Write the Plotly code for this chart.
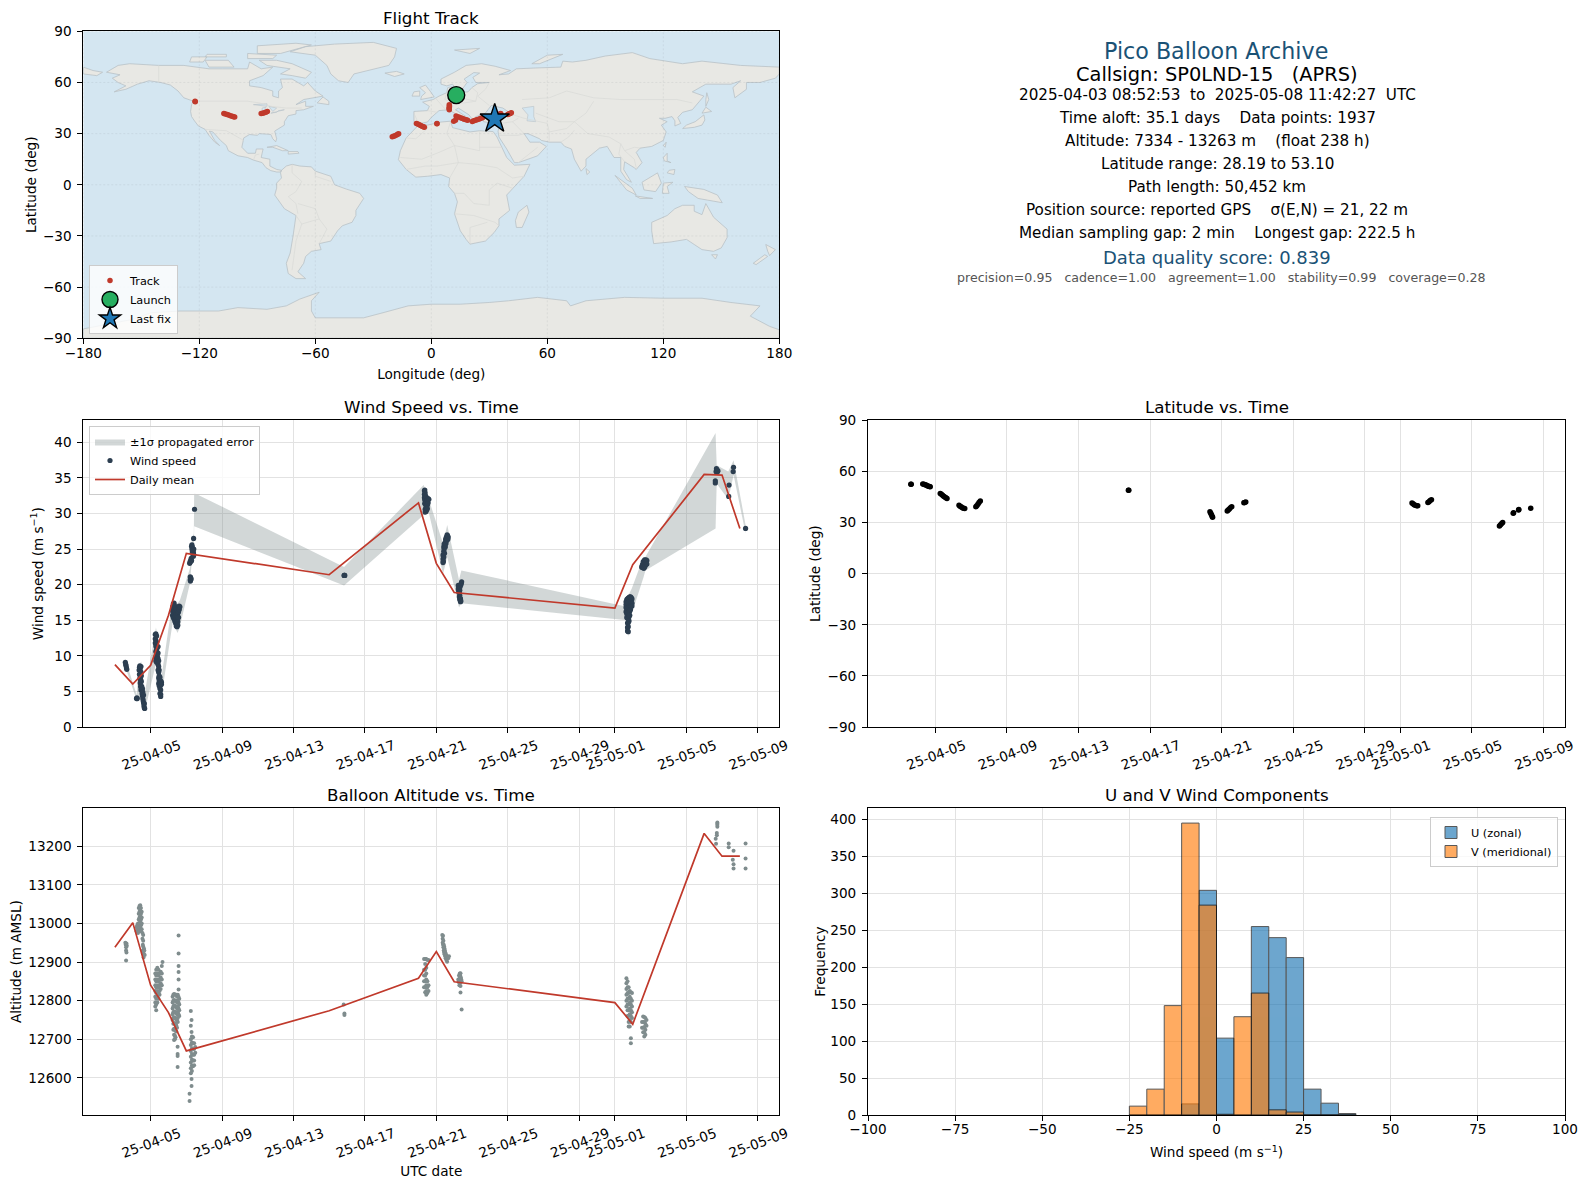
import plotly.graph_objects as go

W, H = 1586, 1189
FONT = "DejaVu Sans"

# ---------- map outlines (lon, lat) ----------
north_america = [(-168,66),(-162,70),(-156,71),(-141,70),(-128,70),(-115,68),(-108,68),(-95,68),(-94,72),(-88,68),(-82,69),(-87,64),(-94,61),(-94,58),(-88,57),(-82,55),(-82,52),(-79,51),(-79,55),(-77,57),(-78,62),(-72,62),(-66,58),(-64,60),(-60,55),(-56,52),(-66,50),(-70,47),(-65,49),(-65,46),(-61,46),(-66,44),(-70,43.5),(-70,41.5),(-74,40.5),(-76,37),(-76,35),(-81,31.5),(-80,27),(-80.5,25.2),(-82,27),(-83,29.5),(-85,29.7),(-89,30),(-90,29),(-94,29.5),(-97,27.5),(-98,22),(-95,18.5),(-91,18.5),(-90.5,21),(-87,21),(-88,16),(-83.5,15),(-83.5,11),(-80,9),(-77.5,8.5),(-78,7.5),(-80,7.5),(-83,8.3),(-85.5,10),(-87.5,13),(-92,14.5),(-95,16),(-100,17),(-105,20),(-106,23),(-109,26),(-113,31),(-114.8,31.5),(-112,26),(-109.5,23),(-112,25),(-115,29),(-117,32.5),(-120.5,34.5),(-122.5,37.5),(-124,40),(-124.5,43),(-124,47),(-123,49),(-128,51),(-131,55),(-135,58.5),(-140,60),(-146,61),(-152,59),(-158,56),(-164,54.5),(-158,58),(-162,60),(-165,62.5),(-161,64.5)]
greenland = [(-73,78),(-60,76),(-54,70),(-52,65),(-48,61),(-43,60),(-40,65),(-30,68),(-22,70),(-19,75),(-18,80),(-30,83.5),(-50,82.5),(-65,81)]
baffin = [(-80,73),(-72,71),(-62,66),(-65,62.5),(-72,64),(-78,65),(-73,68),(-85,70),(-89,73)]
victoria = [(-117,73),(-105,73),(-102,69),(-115,69)]
ellesmere = [(-90,77),(-78,77),(-62,82),(-70,83),(-90,81.5)]
banks = [(-125,72),(-118,72),(-116,75),(-124,75)]
devon = [(-95,74),(-82,74),(-80,76),(-95,77)]
melville = [(-117,75),(-106,75),(-106,76.5),(-116,76.5)]
newfoundland = [(-59,48),(-53,47),(-53,49),(-56,51.5)]
cuba = [(-85,22),(-80,23),(-74,20),(-77,20),(-82,22)]
hispaniola = [(-74,19.5),(-69,19.5),(-68.5,18.5),(-74,18)]
south_america = [(-77.5,8.5),(-75,11),(-72,12),(-68,11),(-62,10.5),(-60,8),(-52,5),(-50,0),(-44,-2.5),(-37,-5),(-35,-8),(-39,-15),(-39,-18),(-41,-22),(-46,-24),(-48.5,-27),(-52,-33),(-58,-34.5),(-57,-38),(-62,-39),(-65,-42),(-66,-46),(-69,-51),(-65,-55),(-70,-55),(-74,-52),(-75,-46),(-73,-40),(-71.5,-30),(-70,-18),(-76,-14),(-81,-6),(-80,-2),(-80,1),(-77.5,4),(-78,7)]
africa = [(-6,35.8),(-2,35),(5,36.8),(10,37.3),(11,33.5),(15,32.3),(20,31),(25,31.7),(32,31.2),(34,28),(37,21),(39,16),(43,11.5),(51,12),(48,5),(42,-2),(39,-6),(40.5,-15),(35,-20),(35,-24),(32.5,-28),(28,-33),(20,-34.8),(18,-32),(15,-27),(12,-17),(13.5,-10),(12,-5),(9,-1),(9.5,4),(5,6),(-2,5),(-8,4.5),(-13,9),(-17,14.7),(-16,20),(-13,27.5),(-10,31)]
madagascar = [(49.5,-12),(50.5,-16),(47,-25),(44,-25),(43.5,-21),(45,-16)]
eurasia = [(-9,37),(-9,43),(-2,43.5),(-1,46),(-4.5,48.5),(1,50),(4,52),(8,54),(8.5,57),(10.5,57.5),(10,54.5),(14,54),(19,54.5),(21,57),(24,59.3),(30,60),(23,60),(21.5,63),(25,65.5),(22,65.8),(17,62),(18.5,60),(16,56),(13,55.5),(11,59),(8,58),(5,59),(5,62),(12,66),(18,70),(26,71),(33,69.5),(41,67),(35,64.5),(40,65),(44,68),(54,68.5),(67,69),(68,72.5),(73,72),(80,73),(90,75.5),(104,77.5),(113,74),(130,71),(140,72.5),(160,70),(180,69),(180,65),(178,62.5),(170,60),(163,60),(163,56),(157,51),(156,57),(160,61),(155,59),(142,59),(135,54.5),(141,52),(135,44),(130,42.5),(127.5,39.5),(129,36),(126,34.5),(126,37.5),(124.5,40),(121,39),(118,39),(122,37),(119,35),(121.5,31),(120,26),(114,22.5),(108,21.5),(106,19),(109,13),(106,9),(105,10),(100,13.5),(99.5,9),(103.5,1.5),(101,3),(98,8),(98,16),(94.5,16),(91,22.5),(87,21.5),(80,15),(80,11),(77.5,8),(74,15),(72.5,21),(69,22.5),(67,25),(61,25),(57,26),(56,27),(50,30),(48,30),(51,25),(56,25),(59.5,22.5),(55,17),(45,13),(43,13),(39,21),(35,28),(34.5,31.5),(36,36),(30,36.5),(27,37),(26.5,40),(29,41),(35,42),(41.5,41.5),(37,45),(33,46),(31,46.5),(28,42),(26,41),(23,40),(24,38),(22.5,36.5),(19.5,41),(14,45),(12.5,44),(18,40),(16,38),(12,42),(9,44),(4,43.5),(0,39.5),(-2,36.8),(-5.5,36)]
chukotka = [(-180,65),(-180,69),(-175,67),(-170,66),(-173,64),(-178,65)]
britain = [(-5.5,50),(1.5,51.5),(0,54),(-3,58.5),(-6,57),(-3,54),(-5,52)]
ireland = [(-10,52),(-6,52),(-6,55),(-9,54.5)]
iceland = [(-24,65.5),(-18,66.5),(-14,65),(-19,63.5)]
svalbard = [(12,79),(25,80),(20,77)]
novaya = [(52,71),(56,71),(68,76.5),(60,76)]
honshu = [(130,33),(136,33.7),(140,35),(141.5,38),(141,41),(140,40),(136.5,37),(132,35)]
hokkaido = [(140,42),(145,43),(142,45.5)]
sakhalin = [(142,46),(143.5,50),(142.5,54),(142,50)]
taiwan = [(120,23),(121.5,25),(121,22)]
luzon = [(120,16),(122,18.5),(122,14),(124,13),(120.5,14)]
mindanao = [(122,7),(125.5,6),(126,9),(123,8.5)]
sri_lanka = [(80,9.5),(82,7.5),(80.5,6)]
borneo = [(109,1.5),(117,7),(119,1),(116,-4),(110,-3)]
sumatra = [(95,5.5),(104,-2),(106,-6),(101,-3)]
java = [(105.5,-6.5),(114.5,-8),(108,-8)]
sulawesi = [(119.5,-5),(120,1),(125,1.5),(122,-1),(123,-5)]
new_guinea = [(131,-1),(141,-2.7),(148,-6),(150.5,-10.5),(143,-9),(138,-8),(133,-4)]
australia = [(114,-22),(122,-18),(126,-14),(130,-12),(136,-12),(136,-15.5),(140,-17.5),(142,-11),(146,-19),(153,-26),(153,-31),(150,-37),(146,-39),(140,-38),(136,-35),(132,-32),(124,-33.5),(115,-34.5),(114,-27)]
tasmania = [(145,-41),(148,-41),(147,-43.5)]
nz_north = [(173,-35),(178,-38),(175,-41.5),(174,-39)]
nz_south = [(172.5,-41),(174,-42),(168,-46.8),(166.5,-46)]
antarctica = [(-180,-84.5),(-155,-79),(-145,-75),(-130,-74),(-110,-74),(-100,-72),(-85,-73),(-75,-71),(-68,-67),(-58,-63),(-62,-68),(-62,-74),(-60,-78),(-50,-78),(-35,-78),(-25,-75),(-12,-71),(0,-70),(15,-70),(30,-69),(40,-68),(55,-66),(70,-68),(72,-71),(80,-68),(100,-66),(120,-66.5),(140,-66.5),(155,-69),(170,-71),(165,-77),(175,-83),(180,-85),(180,-90),(-180,-90)]
land_parts = [north_america, greenland, baffin, victoria, ellesmere, banks, devon, melville, newfoundland, cuba, hispaniola, south_america, africa, madagascar, eurasia, chukotka, britain, ireland, iceland, svalbard, novaya, honshu, hokkaido, sakhalin, taiwan, luzon, mindanao, sri_lanka, borneo, sumatra, java, sulawesi, new_guinea, australia, tasmania, nz_north, nz_south, antarctica]
caspian = [(47,45),(53,46),(53,40),(54,37),(49.5,37.5),(50,41)]
superior = [(-92,47),(-85,47.5),(-85,46),(-90,46.5)]
michigan = [(-87.5,42),(-85.5,45.5),(-87.5,45)]
huron = [(-84,46),(-80,45),(-82,43)]
erie_ontario = [(-83,42),(-79,43),(-76,44),(-79,43.5),(-80,42.5)]
lake_parts = [caspian, superior, michigan, huron, erie_ontario]
border_parts = [
    [(-123,49),(-95,49),(-89,48),(-83,46),(-75,45),(-67,45)],
    [(-141,70),(-141,60)],
    [(-117,32.5),(-106,31.7),(-97,26)],
    [(-92,14.5),(-91,17.5),(-89,18)],
    [(-72,12),(-72,7),(-67,2),(-70,-4),(-74,-7),(-70,-11),(-69,-17)],
    [(-60,8),(-60,5),(-52,2)],
    [(-70,-18),(-67,-23),(-70,-33),(-72,-50)],
    [(-58,-20),(-54,-26),(-58,-34.5)],
    [(-69,-11),(-60,-14),(-58,-20),(-67,-23)],
    [(-13,27.5),(-8,27),(-2,33),(-2,35)],
    [(-16,16),(-5,15),(4,19),(12,23),(25,20),(25,31.7)],
    [(25,22),(37,22)],
    [(10,37),(8,30),(12,23),(14,13),(9.5,4)],
    [(-13,9),(-8,10),(-3,11),(3,11),(14,13),(24,12),(34,10),(42,4),(48,5)],
    [(12,-5),(17,-5),(22,-11),(30,-12),(30,-3),(34,1),(42,-2)],
    [(12,-17),(22,-18),(33,-22),(35,-24)],
    [(20,-34.8),(20,-25),(29,-22)],
    [(2,51),(6,46),(7.5,44)],
    [(8,54),(7,50),(13,48),(17,48),(23,49),(24,54),(21,57)],
    [(14,54),(15,51),(23,49)],
    [(-9,42),(-7,37)],[(-2,43.5),(3,42.5)],
    [(30,60),(28,56),(24,52),(30,46.5)],
    [(41,41.5),(48,39),(60,36),(61,31),(61,25)],
    [(36,36),(42,37),(45,39)],[(42,37),(48,30)],
    [(35,29),(45,29),(48,30)],[(45,13),(52,19),(55,22)],
    [(47,50),(61,51),(70,55),(84,51),(98,50),(115,50),(127,50),(135,48)],
    [(54,42),(66,37),(74,37),(80,42),(84,49)],
    [(61,31),(70,33),(74,37),(78,33),(81,30),(92,28),(98,24),(100,20),(105,22),(108,21.5)],
    [(67,25),(71,28),(74,32)],[(98,24),(97,18),(100,13.5)],[(100,20),(105,15),(106,10)],
]

# ---------- flight track ----------
track_lon = [-122.2,-122.1,-107.3,-106.5,-105.6,-104.8,-103.9,-103,-102.3,-101.7,-88,-87.2,-86.4,-85.6,-84.8,-20.2,-19.5,-18.8,-18,-17.4,-16.9,-7.7,-7,-6.2,-5.5,-4.8,-4.1,-3.6,2.9,2.95,9.3,9.4,9.3,9.2,9.3,11.6,12.5,12.8,13.6,14.5,15.4,16.2,17,18,18.8,21.2,22,22.8,23.6,24.5,25.4,26.5,35.8,35.9,39.5,40,40.5,41,41.4]
track_lat = [49,48.7,41.8,41.5,41.2,40.9,40.5,40.2,39.9,39.7,41.8,42,42.3,42.6,43,28.1,28.4,28.8,29.2,29.6,29.9,36,35.6,35.2,34.8,34.4,34,33.8,35.8,35.9,47,46.2,45.5,44.7,44,37.3,37.9,40.3,39.9,39.6,39.2,38.9,38.5,38.2,37.9,37.1,37.5,37.8,38.1,38.5,38.9,39.3,41.8,41.7,41.2,41.5,41.7,42,42.2]
launch_lon, launch_lat = [12.9], [52.6]
last_lon, last_lat = [32.8], [38.7]

# ---------- wind speed, read per time column ----------
wind_columns = [
 ("04-03 14:00",[9.1]),("04-03 14:30",[8.8]),("04-03 15:00",[8.6]),("04-03 15:30",[8.3]),("04-03 16:00",[8.1]),
 ("04-04 05:00",[4.0]),("04-04 05:30",[4.1]),("04-04 06:00",[4.0]),
 ("04-04 08:30",[8.0]),("04-04 09:00",[8.4,7.4]),("04-04 09:30",[8.6,6.8]),("04-04 10:00",[8.2,7.2,6.2]),
 ("04-04 10:30",[6.7,5.7]),("04-04 11:00",[8.5,7.7,5.2]),("04-04 11:30",[7.2,6.4,5.4]),("04-04 12:00",[5.7]),
 ("04-04 12:30",[5.2,4.7]),("04-04 13:00",[5.4,4.4]),("04-04 13:30",[4.9,4.0]),("04-04 14:00",[3.7]),
 ("04-04 14:30",[4.5,3.4]),("04-04 15:00",[3.0]),("04-04 15:30",[3.3,2.7]),("04-04 16:00",[2.6]),
 ("04-05 06:15",[13.0,12.4,11.8]),("04-05 07:00",[13.1,12.2,11.4,10.6,9.8,9.3]),("04-05 08:00",[12.8,11.9,10.9,10.1,9.5,9.1]),
 ("04-05 09:00",[11.2,10.3,9.9,9.6]),("04-05 10:00",[11.3,10.4,9.6,8.8,8.0]),("04-05 10:50",[9.3,8.5,7.7,6.9,6.1]),
 ("04-05 11:30",[8.0,7.2,6.5,5.8]),("04-05 12:30",[7.0,6.2,5.4,4.7]),("04-05 13:30",[6.5,5.9,5.2,4.6,4.3]),("04-05 14:30",[6.3,6.0]),
 ("04-06 05:30",[16.9,16.3,15.7]),("04-06 06:30",[17.3,16.7,16.0,15.4]),("04-06 07:30",[17.4,16.8,16.1,15.6,15.2]),
 ("04-06 08:30",[17.0,16.4,15.8,15.3,14.9]),("04-06 09:30",[16.8,16.2,15.6,15.0,14.6]),("04-06 10:30",[16.6,15.9,15.3,14.7,14.2]),
 ("04-06 11:30",[16.2,15.6,15.0,14.4,14.1]),("04-06 12:30",[16.0,15.4,14.8,14.3]),("04-06 13:30",[16.9,16.2,15.4]),("04-06 14:30",[17.0,16.5]),("04-06 15:20",[16.9]),
 ("04-07 04:30",[23.0]),("04-07 05:00",[23.2]),("04-07 05:15",[21.1,20.7]),("04-07 05:30",[20.5]),("04-07 05:45",[23.4,21.0]),
 ("04-07 06:15",[23.3]),("04-07 06:30",[23.7,20.8]),("04-07 07:00",[25.4,23.4]),("04-07 07:30",[25.6,25.0]),("04-07 08:00",[25.3,24.6]),
 ("04-07 08:30",[24.9]),("04-07 09:00",[24.8,24.2]),("04-07 09:30",[24.5,24.0]),("04-07 09:45",[26.5]),("04-07 10:00",[25.0,24.2]),("04-07 11:00",[30.6]),
 ("04-15 20:00",[21.3]),("04-15 20:30",[21.3]),("04-15 21:00",[21.3]),
 ("04-20 08:00",[33.2,32.7,32.2]),("04-20 08:30",[33.3,32.5,31.9,31.4]),("04-20 09:00",[32.9,32.0,31.4,30.6,30.2]),
 ("04-20 10:00",[32.4,31.5,30.9,30.3]),("04-20 11:00",[31.9,31.2,30.5]),("04-20 12:00",[32.0,31.2,30.7]),("04-20 13:00",[32.1,31.5]),("04-20 14:00",[32.0]),
 ("04-21 09:00",[24.2,23.6,23.1]),("04-21 09:30",[24.0,23.3]),("04-21 10:00",[25.3,24.7,23.9]),("04-21 10:30",[25.7,25.0]),("04-21 11:00",[24.4]),
 ("04-21 11:30",[25.4]),("04-21 12:00",[26.0,25.3]),("04-21 12:30",[26.4]),("04-21 13:00",[25.8]),("04-21 13:30",[26.7]),("04-21 14:00",[26.2]),
 ("04-21 14:30",[27.0,26.5]),("04-21 15:00",[26.9]),("04-21 15:30",[26.4]),("04-21 16:00",[26.7]),
 ("04-22 05:30",[19.9,19.4]),("04-22 06:00",[19.7,19.0]),("04-22 06:30",[19.5]),("04-22 07:00",[18.9,18.3]),("04-22 07:30",[19.2,18.5,17.9]),
 ("04-22 08:00",[19.7,18.1]),("04-22 08:30",[18.0,17.6]),("04-22 09:00",[20.0,17.7]),("04-22 09:30",[20.2]),("04-22 10:00",[20.4]),
 ("05-01 15:00",[17.6,17.2,16.8,16.2]),("05-01 16:00",[17.9,17.3,16.7,15.9,15.4]),("05-01 17:00",[18.0,17.4,16.8,16.1,15.3,14.6,14.0,13.5]),
 ("05-01 18:00",[18.1,17.4,16.7,16.0,15.3,14.7,14.1,13.4]),("05-01 19:00",[18.2,17.5,16.8,16.1,15.5,14.9]),("05-01 20:00",[18.3,17.6,17.0,16.3,15.7]),
 ("05-01 21:00",[18.3,17.6,17.0,16.5]),("05-01 22:00",[18.2,17.5,17.0]),("05-01 23:00",[18.0,17.4,17.0]),
 ("05-02 12:00",[22.5]),("05-02 13:00",[22.8,22.4]),("05-02 14:00",[23.2,22.9,22.4]),("05-02 15:00",[23.3,22.8,22.3]),("05-02 16:00",[23.5,23.0,22.5]),
 ("05-02 17:00",[23.3,22.7]),("05-02 18:00",[23.5,23.0]),("05-02 19:00",[23.4,22.9]),
 ("05-06 15:00",[34.6,34.3]),("05-06 16:00",[35.9]),("05-06 16:30",[36.3]),("05-06 17:00",[35.8]),("05-06 17:30",[36.1]),("05-06 18:00",[35.9]),("05-06 18:30",[36.0]),
 ("05-07 09:00",[32.4]),("05-07 09:30",[34.0]),("05-07 15:00",[35.9]),("05-07 15:30",[36.5]),("05-08 07:40",[27.9]),
]
mean_days = ["04-03","04-04","04-05","04-06","04-07","04-15","04-20","04-21","04-22","05-01","05-02","05-06","05-07","05-08"]
wind_mean = [8.76,6.04,8.67,15.7,24.4,21.4,31.5,23.0,18.9,16.7,22.8,35.5,35.4,27.9]
alt_mean = [12938,13002,12840,12769,12670,12774,12858,12927,12849,12795,12739,13233,13174,13174]
band_t = ["04-03 13:34","04-03 16:00","04-04 05:15","04-04 08:00","04-04 11:30","04-04 13:15","04-04 16:00","04-05 07:10","04-05 11:40","04-05 14:00","04-06 05:30","04-06 12:15","04-06 15:20","04-07 04:50","04-07 07:30","04-07 10:05","04-07 10:30","04-15 20:00","04-20 07:00","04-20 14:10","04-21 09:00","04-21 14:40","04-22 06:30","04-22 09:40","05-01 16:00","05-01 18:15","05-01 22:50","05-02 14:25","05-02 17:00","05-06 15:20","05-06 16:50","05-07 08:25","05-07 15:35","05-08 07:40"]
band_hi = [9.4,8.9,4.5,8.7,9.2,6.1,4.7,14.0,11.5,6.6,17.8,17.4,17.8,22.3,26.3,27.2,32.9,22.5,34.0,31.9,25.8,28.4,20.7,22.0,16.9,18.5,19.5,23.9,23.9,41.3,36.8,35.9,37.5,28.4]
band_lo = [8.2,7.8,3.8,3.6,4.7,2.4,2.2,8.9,5.7,3.9,14.6,13.2,14.1,20.2,23.5,23.7,28.2,19.9,29.8,30.0,21.5,23.9,16.8,17.4,15.0,12.7,16.0,21.0,22.0,27.9,34.2,32.0,35.4,27.2]

# ---------- altitude, read per time column ----------
alt_columns = [
 ("04-03 14:00",[12950]),("04-03 14:30",[12945]),("04-03 15:00",[12938,12930,12904]),("04-03 15:30",[12948,12925]),("04-03 16:00",[12942]),
 ("04-04 05:15",[12990,12980]),("04-04 06:00",[12995,12983]),("04-04 07:00",[13000,12975]),("04-04 08:00",[13040,13025,13010,12995,12980]),
 ("04-04 09:00",[13045,13030,13015,13000,12985]),("04-04 10:00",[13047,13035,13020,13005,12990]),("04-04 11:00",[13040,13025,13010,12995,12980]),
 ("04-04 12:00",[13030,13015,13000,12985]),("04-04 13:00",[12975,12960]),("04-04 13:30",[12945,12930]),("04-04 14:00",[12970,12955,12940,12925]),
 ("04-04 14:30",[12912]),("04-04 15:00",[12935,12920]),("04-04 15:30",[12930]),("04-04 16:00",[12918]),
 ("04-05 06:15",[12870,12855,12840,12825,12810,12795,12785]),("04-05 07:30",[12880,12865,12850,12835,12820,12805,12790,12775]),
 ("04-05 09:00",[12885,12870,12855,12840,12825,12810,12795]),("04-05 10:30",[12880,12865,12850,12835,12820,12805]),
 ("04-05 12:00",[12870,12855,12840,12825,12815]),("04-05 13:30",[12875,12860,12845,12830]),("04-05 15:00",[12890,12870,12855,12840]),("04-05 16:00",[12900]),
 ("04-06 05:30",[12810,12795,12780,12765,12750]),("04-06 06:30",[12815,12800,12785,12770,12755,12740,12725]),
 ("04-06 07:30",[12817,12802,12788,12772,12757,12742,12727,12712,12698]),("04-06 08:30",[12816,12800,12786,12770,12755,12740,12725,12710,12700]),
 ("04-06 09:30",[12815,12800,12785,12770,12755,12740,12722,12705]),("04-06 10:30",[12815,12800,12785,12770,12752,12736,12720]),
 ("04-06 11:30",[12810,12795,12780,12765,12748,12730]),("04-06 12:15",[12681,12662,12657,12628]),("04-06 12:30",[12815,12800,12785,12770,12755,12745]),
 ("04-06 13:30",[12810,12795,12780,12765]),("04-06 13:35",[12969,12922,12890,12874,12855,12829]),("04-06 14:30",[12805,12790,12775,12760]),
 ("04-07 04:20",[12559,12540]),("04-07 06:00",[12773,12735,12700,12685,12670,12655,12640,12625,12612]),("04-07 07:00",[12750,12719,12597,12579]),
 ("04-07 07:30",[12707,12692,12677,12662,12647,12632,12618]),("04-07 09:00",[12705,12690,12675,12660,12645,12630]),
 ("04-07 10:30",[12690,12675,12660,12645,12633]),("04-07 12:00",[12680,12665]),
 ("04-15 19:30",[12790]),("04-15 20:30",[12767,12763]),
 ("04-20 07:30",[12908,12880,12865,12850,12835]),("04-20 09:00",[12908,12895,12880,12865,12850,12835,12822]),("04-20 10:30",[12908,12885,12870,12855,12840,12825,12815]),
 ("04-20 12:00",[12905,12850,12835,12820]),("04-20 13:30",[12905,12840,12825]),
 ("04-21 08:00",[12970]),("04-21 08:30",[12960,12950]),("04-21 09:00",[12968,12945]),("04-21 09:30",[12955,12938]),("04-21 10:00",[12945,12930]),
 ("04-21 10:30",[12940,12925]),("04-21 11:00",[12935,12920]),("04-21 11:30",[12930]),("04-21 12:00",[12925,12915]),("04-21 12:30",[12910]),
 ("04-21 13:00",[12920]),("04-21 13:30",[12905]),("04-21 14:00",[12915]),("04-21 14:30",[12901]),("04-21 15:00",[12912]),("04-21 16:00",[12910]),("04-21 17:00",[12915]),
 ("04-22 05:30",[12855]),("04-22 06:00",[12848]),("04-22 06:30",[12865,12852]),("04-22 07:00",[12840]),("04-22 07:30",[12870,12858,12846]),
 ("04-22 08:00",[12865,12852]),("04-22 08:30",[12871,12838,12821]),("04-22 09:00",[12860,12848]),("04-22 09:30",[12855]),("04-22 10:00",[12850,12777]),
 ("05-01 15:30",[12858,12845,12830,12815,12800,12785]),("05-01 17:00",[12850,12835,12820,12805,12790,12775,12760]),
 ("05-01 18:30",[12835,12820,12805,12790,12775,12760,12745,12733]),("05-01 20:00",[12825,12810,12795,12780,12765,12750,12733]),
 ("05-01 21:30",[12822,12805,12790,12775,12760,12745,12703,12690]),("05-01 23:00",[12820,12800,12785,12770,12755]),
 ("05-02 12:30",[12745,12730]),("05-02 14:00",[12759,12745,12730,12718]),("05-02 15:30",[12758,12745,12732,12718,12707]),
 ("05-02 17:00",[12755,12740,12725,12712]),("05-02 18:30",[12750,12735]),
 ("05-06 15:30",[13219]),("05-06 16:00",[13206]),("05-06 17:00",[13234,13228]),("05-06 17:45",[13261,13258,13255,13250]),
 ("05-07 09:00",[13207,13197]),("05-07 14:30",[13165]),("05-07 15:30",[13188,13153,13142]),("05-08 07:40",[13207,13168,13142]),
]

# ---------- latitude ----------
lat_t = ["04-03 15:00","04-03 15:30","04-04 07:00","04-04 08:30","04-04 10:00","04-04 11:30","04-04 13:00","04-04 14:30","04-04 16:00","04-04 17:00","04-05 06:30","04-05 08:00","04-05 09:30","04-05 11:00","04-05 12:30","04-05 14:00","04-05 15:30","04-06 07:40","04-06 09:00","04-06 10:30","04-06 12:00","04-06 13:30","04-06 15:20","04-07 06:15","04-07 07:30","04-07 09:00","04-07 10:30","04-07 12:15","04-15 19:00","04-15 19:30","04-20 08:30","04-20 09:30","04-20 10:30","04-20 11:30","04-20 12:00","04-21 07:40","04-21 09:00","04-21 10:30","04-21 12:00","04-21 13:40","04-22 06:00","04-22 07:00","04-22 08:30","05-01 15:40","05-01 17:00","05-01 18:30","05-01 20:00","05-01 22:00","05-01 23:20","05-02 13:00","05-02 14:30","05-02 16:00","05-02 17:45","05-06 13:00","05-06 14:30","05-06 16:00","05-06 17:20","05-07 07:30","05-07 08:00","05-07 14:40","05-07 15:00","05-08 07:00"]
lat_v = [52.4,52.4,52.6,52.5,52.2,52.0,51.6,51.3,51.1,51.0,47.1,46.6,46.0,45.4,45.0,44.5,44.1,40.1,39.6,39.2,38.7,38.4,38.2,39.3,39.9,40.7,41.7,42.6,48.9,48.9,36.4,35.5,34.6,33.6,33.1,36.8,37.4,38.0,38.7,39.3,41.6,41.8,42.0,41.5,41.0,40.5,40.2,39.9,39.8,41.7,42.2,42.9,43.4,28.0,28.7,29.4,30.0,35.5,35.8,37.4,37.6,38.4]

# ---------- histogram ----------
hist_left = [-25,-20,-15,-10,-5,0,5,10,15,20,25,30,35]
u_counts = [0,0,0,15,304,104,0,255,240,213,35,16,2]
v_counts = [12,35,148,395,284,1,133,165,7,4,0,0,0]

# ---------- ticks and text ----------
date_ticks = ["04-05","04-09","04-13","04-17","04-21","04-25","04-29","05-01","05-05","05-09"]
info_lines = [
 ("Pico Balloon Archive",51,22.2,"#1a5276",1216),
 ("Callsign: SP0LND-15   (APRS)",74,19.4,"#000000",1216.5),
 ("2025-04-03 08:52:53  to  2025-05-08 11:42:27  UTC",95,15.2,"#000000",1217),
 ("Time aloft: 35.1 days    Data points: 1937",118,15.2,"#000000",1217),
 ("Altitude: 7334 - 13263 m    (float 238 h)",141,15.2,"#000000",1217),
 ("Latitude range: 28.19 to 53.10",164,15.2,"#000000",1217),
 ("Path length: 50,452 km",187,15.2,"#000000",1217),
 ("Position source: reported GPS    σ(E,N) = 21, 22 m",210,15.2,"#000000",1217),
 ("Median sampling gap: 2 min    Longest gap: 222.5 h",233,15.2,"#000000",1217),
 ("Data quality score: 0.839",257.5,18,"#1a5276",1216.5),
 ("precision=0.95   cadence=1.00   agreement=1.00   stability=0.99   coverage=0.28",278,12.6,"#555555",1221),
]

# ---------- helpers ----------
def d(s):
    return "2025-" + s
def flatten(columns):
    xs, ys = [], []
    for t, vals in columns:
        for v in vals:
            xs.append(d(t)); ys.append(v)
    return xs, ys
def px_x(a, b):
    return [a / W, b / W]
def px_y(top, bottom):
    return [1 - bottom / H, 1 - top / H]
def outline(parts, close=True):
    xs, ys = [], []
    for p in parts:
        pts = list(p) + ([p[0]] if close else [])
        xs += [q[0] for q in pts] + [None]
        ys += [q[1] for q in pts] + [None]
    return xs, ys

LEFT, RIGHT = (83.3, 779.3), (868, 1565)
ROW1, ROW2, ROW3 = (31.3, 338.3), (420.3, 727), (808.3, 1115)
DATE_RANGE = ["2025-04-01 05:30", "2025-05-10 05:00"]
GRID = "#e2e2e2"
common = dict(showline=True, mirror=True, linecolor="black", linewidth=1, ticks="outside", ticklen=5, automargin=False,
              tickcolor="black", tickfont=dict(size=13.6, color="black"), gridcolor=GRID, gridwidth=1, zeroline=False)
date_axis = dict(type="date", range=DATE_RANGE, tickmode="array", tickvals=[d(t) for t in date_ticks],
                 ticktext=["25-" + t for t in date_ticks], tickangle=-20, ticklabelshift=29)
def axt(text, standoff):
    return dict(title=dict(text=text, font=dict(size=13.6, color="black"), standoff=standoff))

fig = go.Figure()
# map
lx, ly = outline(land_parts)
fig.add_trace(go.Scatter(x=lx, y=ly, mode="lines", fill="toself", fillcolor="#e8e8e4", line=dict(color="#b9c1c6", width=0.8), hoverinfo="skip", showlegend=False, xaxis="x", yaxis="y"))
wx, wy = outline(lake_parts)
fig.add_trace(go.Scatter(x=wx, y=wy, mode="lines", fill="toself", fillcolor="#d4e6f1", line=dict(color="#b9c1c6", width=0.6), hoverinfo="skip", showlegend=False, xaxis="x", yaxis="y"))
bx, by = outline(border_parts, close=False)
fig.add_trace(go.Scatter(x=bx, y=by, mode="lines", line=dict(color="#d9dad7", width=0.7), hoverinfo="skip", showlegend=False, xaxis="x", yaxis="y"))
map_lon_ticks = [-180,-120,-60,0,60,120,180]
map_lat_ticks = [-90,-60,-30,0,30,60,90]
gx, gy = [], []
for v in map_lon_ticks:
    gx += [v, v, None]; gy += [-90, 90, None]
for v in map_lat_ticks:
    gx += [-180, 180, None]; gy += [v, v, None]
fig.add_trace(go.Scatter(x=gx, y=gy, mode="lines", line=dict(color="rgba(120,130,140,0.22)", width=0.6, dash="2px,2px"), hoverinfo="skip", showlegend=False, xaxis="x", yaxis="y"))
fig.add_trace(go.Scatter(x=track_lon, y=track_lat, mode="markers", name="Track", marker=dict(color="#c0392b", size=5.5), xaxis="x", yaxis="y", legend="legend"))
fig.add_trace(go.Scatter(x=launch_lon, y=launch_lat, mode="markers", name="Launch", marker=dict(color="#27ae60", size=17, line=dict(color="black", width=1.4)), xaxis="x", yaxis="y", legend="legend"))
fig.add_trace(go.Scatter(x=last_lon, y=last_lat, mode="markers", name="Last fix", marker=dict(color="#1f77b4", size=22, symbol="star", line=dict(color="black", width=1.4)), xaxis="x", yaxis="y", legend="legend"))

# wind
bt = [d(t) for t in band_t]
fig.add_trace(go.Scatter(x=bt + bt[::-1], y=band_hi + band_lo[::-1], mode="lines", fill="toself", fillcolor="rgba(127,140,141,0.35)", line=dict(width=0, color="rgba(0,0,0,0)"), name="±1σ propagated error", hoverinfo="skip", xaxis="x3", yaxis="y3", legend="legend2"))
wt, wv = flatten(wind_columns)
fig.add_trace(go.Scatter(x=wt, y=wv, mode="markers", name="Wind speed", marker=dict(color="#2c3e50", size=5.2), xaxis="x3", yaxis="y3", legend="legend2"))
md = [d(t) + " 00:00" for t in mean_days]
fig.add_trace(go.Scatter(x=md, y=wind_mean, mode="lines", name="Daily mean", line=dict(color="#c0392b", width=1.7), xaxis="x3", yaxis="y3", legend="legend2"))
# latitude
fig.add_trace(go.Scatter(x=[d(t) for t in lat_t], y=lat_v, mode="markers", marker=dict(color="black", size=5.5), showlegend=False, xaxis="x4", yaxis="y4"))
# altitude
at, av = flatten(alt_columns)
fig.add_trace(go.Scatter(x=at, y=av, mode="markers", marker=dict(color="#7f8c8d", size=4), showlegend=False, xaxis="x5", yaxis="y5"))
fig.add_trace(go.Scatter(x=md, y=alt_mean, mode="lines", line=dict(color="#c0392b", width=1.7), showlegend=False, xaxis="x5", yaxis="y5"))
# histogram
hx = [e + 2.5 for e in hist_left]
fig.add_trace(go.Bar(x=hx, y=u_counts, width=5, name="U (zonal)", marker=dict(color="#1f77b4", line=dict(color="black", width=1)), opacity=0.65, xaxis="x6", yaxis="y6", legend="legend3"))
fig.add_trace(go.Bar(x=hx, y=v_counts, width=5, name="V (meridional)", marker=dict(color="#ff7f0e", line=dict(color="black", width=1)), opacity=0.65, xaxis="x6", yaxis="y6", legend="legend3"))

# panel titles and info text
ann = []
def title(text, col, row):
    ann.append(dict(text=text, x=sum(col) / 2 / W, y=1 - (row[0] - 1.5) / H, xref="paper", yref="paper", xanchor="center", yanchor="bottom", showarrow=False, font=dict(size=16.7, color="black")))
title("Flight Track", LEFT, ROW1)
title("Wind Speed vs. Time", LEFT, ROW2)
title("Latitude vs. Time", RIGHT, ROW2)
title("Balloon Altitude vs. Time", LEFT, ROW3)
title("U and V Wind Components", RIGHT, ROW3)
for text, ypx, size, color, xpx in info_lines:
    ann.append(dict(text=text, x=xpx / W, y=1 - ypx / H, xref="paper", yref="paper", xanchor="center", yanchor="middle", showarrow=False, font=dict(size=size, color=color)))

legend_style = dict(bgcolor="rgba(255,255,255,0.8)", bordercolor="#cccccc", borderwidth=1, font=dict(size=11.3, color="black"), itemclick=False, tracegroupgap=0)

fig.update_layout(
    width=W, height=H, autosize=False, margin=dict(l=0, r=0, t=0, b=0), paper_bgcolor="white", plot_bgcolor="white",
    font=dict(family=FONT, color="black"), barmode="overlay", annotations=ann,
    shapes=[dict(type="rect", xref="x", yref="y", x0=-180, x1=180, y0=-90, y1=90, fillcolor="#d4e6f1", line=dict(width=0), layer="below")],
    xaxis=dict(domain=px_x(*LEFT), anchor="y", range=[-180, 180], tickvals=map_lon_ticks, showgrid=False, ticklabelstandoff=-3, **axt("Longitude (deg)", 9), **common),
    yaxis=dict(domain=px_y(*ROW1), anchor="x", range=[-90, 90], tickvals=map_lat_ticks, showgrid=False, ticklabelstandoff=3, **axt("Latitude (deg)", 3), **common),
    xaxis3=dict(domain=px_x(*LEFT), anchor="y3", **date_axis, **common),
    yaxis3=dict(domain=px_y(*ROW2), anchor="x3", range=[0, 43.1], tickvals=[0,5,10,15,20,25,30,35,40], ticklabelstandoff=3, **axt("Wind speed (m s<sup>−1</sup>)", 7), **common),
    xaxis4=dict(domain=px_x(*RIGHT), anchor="y4", **date_axis, **common),
    yaxis4=dict(domain=px_y(*ROW2), anchor="x4", range=[-90, 90], tickvals=map_lat_ticks, ticklabelstandoff=3, **axt("Latitude (deg)", 3), **common),
    xaxis5=dict(domain=px_x(*LEFT), anchor="y5", **date_axis, **axt("UTC date", 6), **common),
    yaxis5=dict(domain=px_y(*ROW3), anchor="x5", range=[12504, 13298], tickvals=[12600,12700,12800,12900,13000,13100,13200], tickformat="d", ticklabelstandoff=3, **axt("Altitude (m AMSL)", 3), **common),
    xaxis6=dict(domain=px_x(*RIGHT), anchor="y6", range=[-100, 100], tickvals=[-100,-75,-50,-25,0,25,50,75,100], ticklabelstandoff=-3, **axt("Wind speed (m s<sup>−1</sup>)", 11), **common),
    yaxis6=dict(domain=px_y(*ROW3), anchor="x6", range=[0, 415], tickvals=[0,50,100,150,200,250,300,350,400], ticklabelstandoff=3, **axt("Frequency", 1), **common),
    legend=dict(x=89 / W, y=1 - 334 / H, xanchor="left", yanchor="bottom", **legend_style),
    legend2=dict(x=89 / W, y=1 - 426 / H, xanchor="left", yanchor="top", **legend_style),
    legend3=dict(x=1558 / W, y=1 - 817 / H, xanchor="right", yanchor="top", **legend_style),
)

fig.write_html("out.html", post_script="document.body.style.margin='0';", config=dict(displayModeBar=False))
